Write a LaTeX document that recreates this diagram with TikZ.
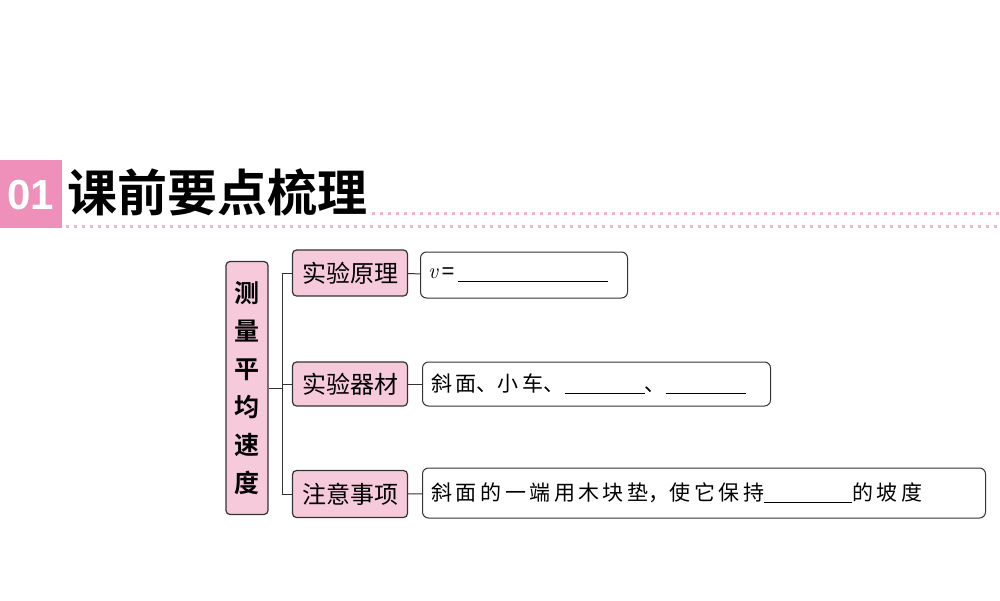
\documentclass[tikz,border=0pt]{standalone}
\usepackage{fontspec}
\newfontfamily\cjk{Noto Sans CJK SC}
\newfontfamily\cjkb{Noto Sans CJK SC Bold}
\newfontfamily\numf{Liberation Sans}
\definecolor{pk}{HTML}{F6CADB}
\definecolor{hpk}{HTML}{EE90B9}
\definecolor{dot}{HTML}{F2B6CC}
\begin{document}
\begin{tikzpicture}[x=1pt,y=-1pt,
  cat/.style={draw=black!80,line width=1.2pt,rounded corners=4pt,fill=pk,inner sep=0pt,font=\cjk\fontsize{24}{26}\selectfont},
  ans/.style={draw=black!80,line width=1pt,rounded corners=6pt,fill=white,inner sep=0pt,anchor=west,font=\cjk\fontsize{21}{22}\selectfont},
  ln/.style={draw=black!80,line width=1pt}]
\useasboundingbox (0,0) rectangle (1000,600);
\fill[hpk] (0,160) rectangle (62,228);
\node[font=\numf\bfseries\fontsize{42}{42}\selectfont,text=white] (num) at (31,195) {01};
\node[font=\cjkb\fontsize{50}{52}\selectfont,anchor=west] (ttl) at (64,192) {课前要点梳理};
\draw[dot,line width=3pt,dash pattern=on 3pt off 5pt] (372,213) -- (1000,213);
\draw[dot,line width=3pt,dash pattern=on 3pt off 5pt] (66,226) -- (1000,226);
\node[cat,minimum width=42pt,minimum height=253pt,align=center,font=\cjkb\fontsize{25}{38}\selectfont] (m) at (247,388) {测\\量\\平\\均\\速\\度};
\node[cat,minimum width=115pt,minimum height=46pt] (a) at (350,273) {实验原理};
\node[cat,minimum width=115pt,minimum height=44pt] (b) at (350,384) {实验器材};
\node[cat,minimum width=115pt,minimum height=47pt] (c) at (350,494) {注意事项};
\node[ans,minimum width=207pt,minimum height=46pt,text width=200pt,align=left] (A) at (420,275) {\hspace{4pt}{\fontsize{22}{22}\selectfont$\mathit{v}$\,\numf =}\,\rule[-3pt]{150pt}{1pt}};
\node[ans,minimum width=348pt,minimum height=44pt,text width=340pt,align=left] (B) at (422,384) {\hspace{5pt}斜\,面、小\,车、\rule[-3pt]{80pt}{1.2pt}、\rule[-3pt]{80pt}{1.2pt}};
\node[ans,minimum width=563pt,minimum height=50pt,text width=555pt,align=left] (C) at (422,493) {\hspace{5pt}斜\,面\,的\,一\,端\,用\,木\,块\,垫，使\,它\,保\,持\rule[-3pt]{88pt}{1.2pt}的\,坡\,度};
\coordinate (j) at (282,388);
\draw[ln] (m.east) -- (j);
\draw[ln] (a.west) -- (282,273) -- (282,494) -- (c.west);
\draw[ln] (j|-b.west) -- (b.west);
\draw[ln] (a) -- (A);
\draw[ln] (b) -- (B);
\draw[ln] (c) -- (C);
\end{tikzpicture}
\end{document}
